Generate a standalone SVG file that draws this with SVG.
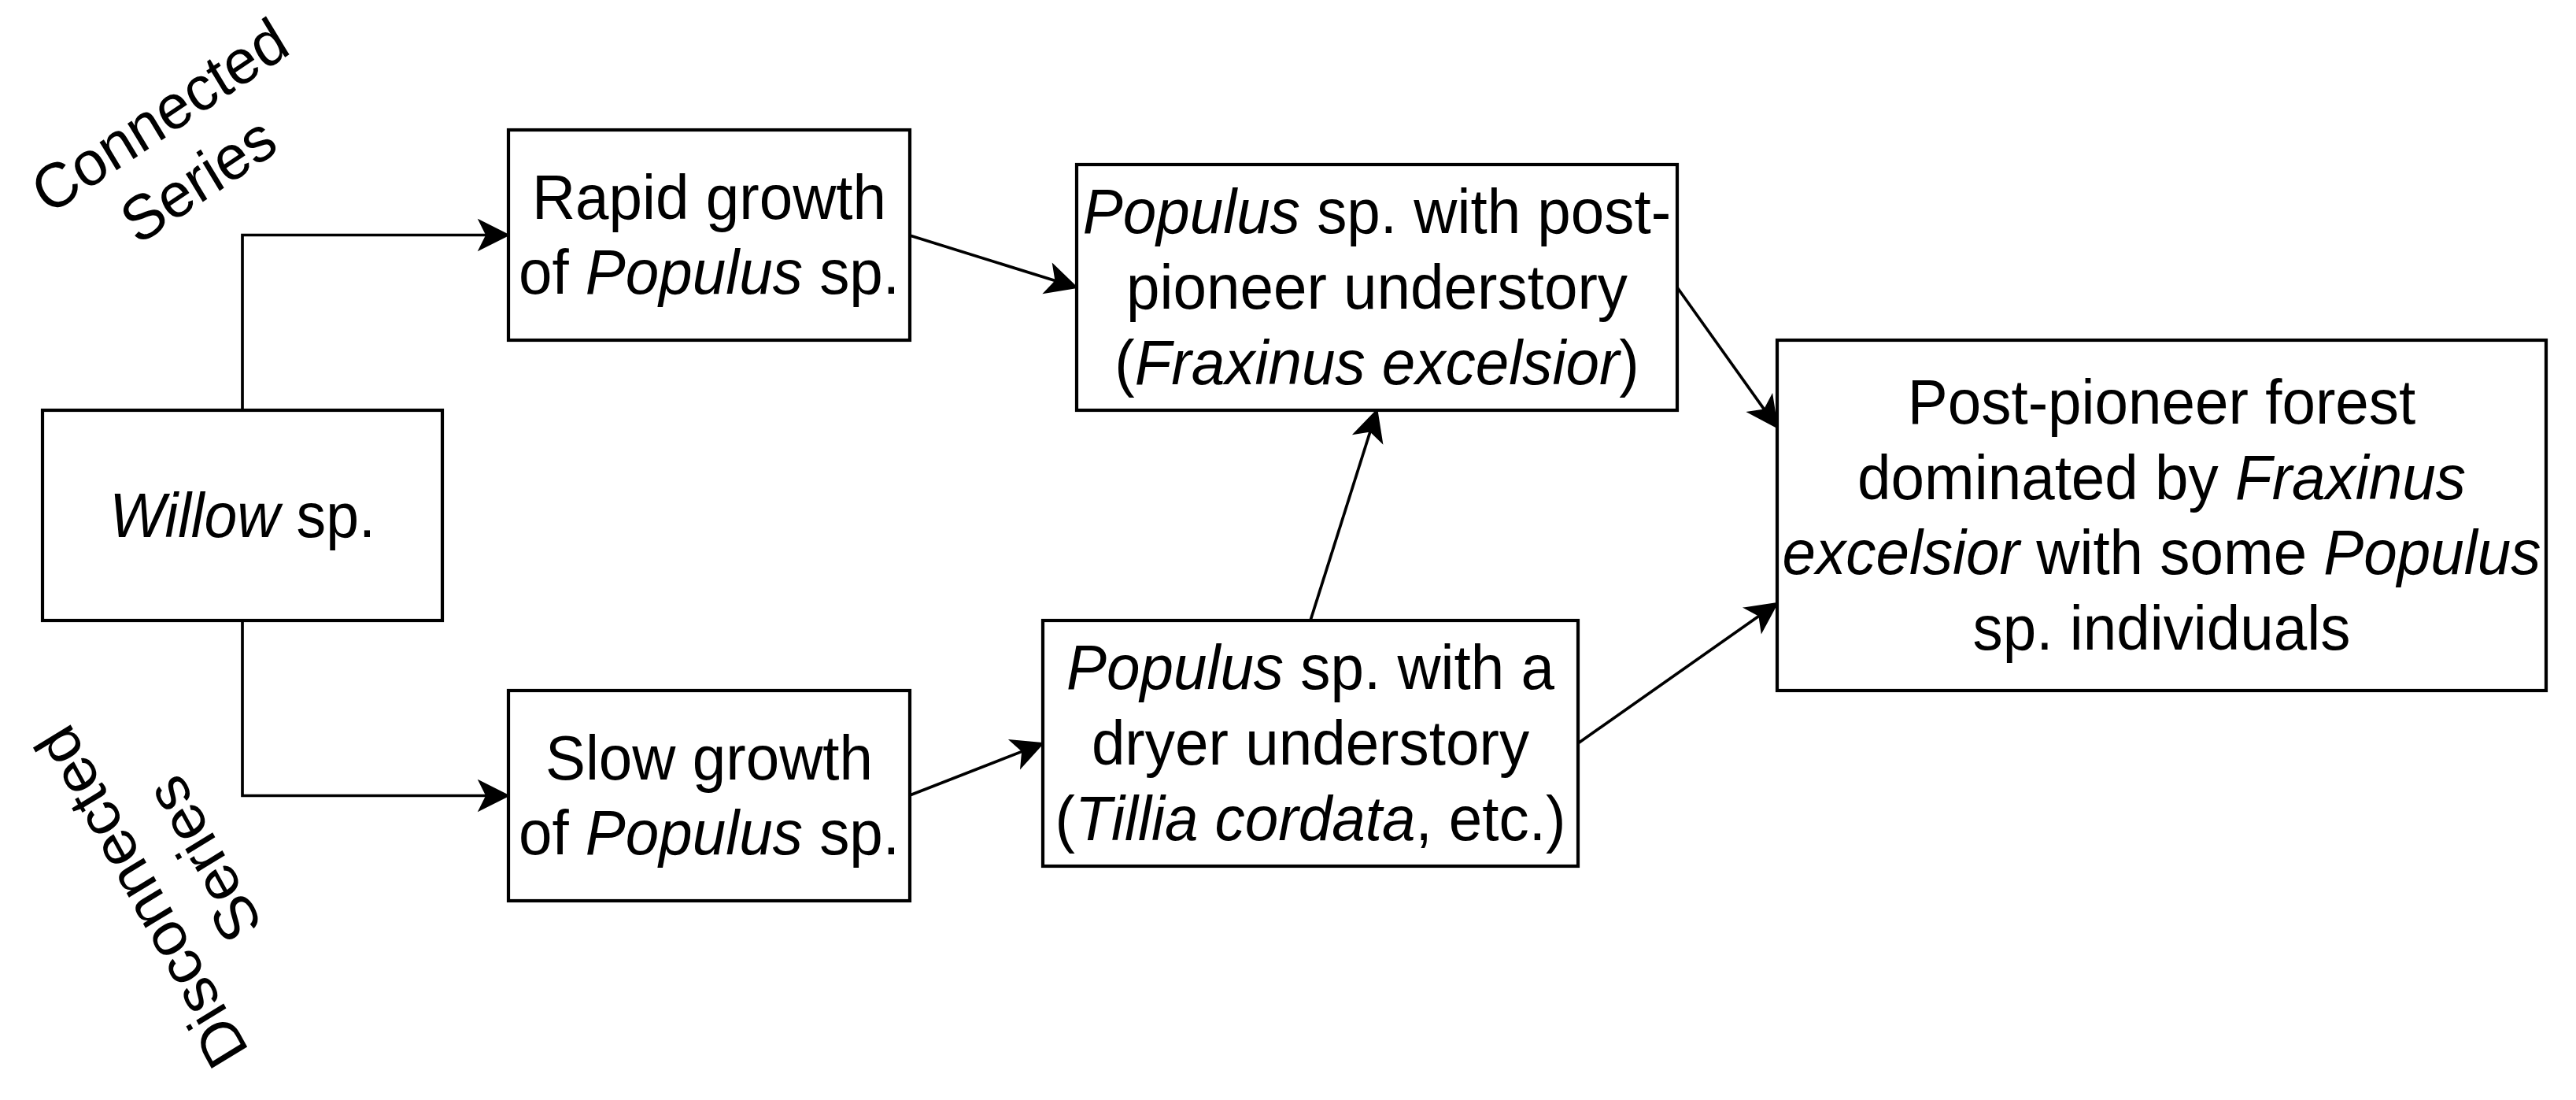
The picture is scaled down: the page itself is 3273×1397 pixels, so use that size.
<svg xmlns="http://www.w3.org/2000/svg" width="3273" height="1397" viewBox="0 0 3273 1397">
<style>
.box{fill:#ffffff;stroke:#000000;stroke-width:4.2}
.edge{fill:none;stroke:#000000;stroke-width:3.7}
.lbl{font-family:"Liberation Sans",Arial,Helvetica,sans-serif;font-size:80px;fill:#000000;text-anchor:middle}
.i{font-style:italic}
</style>
<defs>
<marker id="arrow" markerUnits="userSpaceOnUse" markerWidth="42" markerHeight="42" viewBox="-11 -21 42 42" refX="0" refY="0" orient="auto" overflow="visible">
<path d="M-9.25,-18.5 L27.75,0 L-9.25,18.5 L0,0 Z" fill="#000000" stroke="#000000" stroke-width="2" stroke-linejoin="miter"/>
</marker>
</defs>
<rect width="3273" height="1397" fill="#ffffff"/>
<g id="connectors">
<path class="edge" d="M308,521 V298.5 H618.25" marker-end="url(#arrow)"/>
<path class="edge" d="M308,788 V1010.5 H618.25" marker-end="url(#arrow)"/>
<path class="edge" d="M1156,299 L1341.5,356.75" marker-end="url(#arrow)"/>
<path class="edge" d="M1156,1010 L1299.15,954.1" marker-end="url(#arrow)"/>
<path class="edge" d="M1665,788 L1741.13,547.46" marker-end="url(#arrow)"/>
<path class="edge" d="M2131,365 L2241.88,520.41" marker-end="url(#arrow)"/>
<path class="edge" d="M2005,944 L2235.3,781.97" marker-end="url(#arrow)"/>
</g>
<g id="willow">
<rect class="box" x="54" y="521" width="508" height="267"/>
<text class="lbl" transform="translate(308,654.5) scale(0.94,1)"><tspan x="0" y="27"><tspan class="i">Willow</tspan> sp.</tspan></text>
</g>
<g id="rapid">
<rect class="box" x="646" y="165" width="510" height="267"/>
<text class="lbl" transform="translate(901,298.5) scale(0.955,1)"><tspan x="0" y="-21">Rapid growth</tspan><tspan x="0" y="75">of <tspan class="i">Populus</tspan> sp.</tspan></text>
</g>
<g id="slow">
<rect class="box" x="646" y="877" width="510" height="267"/>
<text class="lbl" transform="translate(901,1010.5) scale(0.955,1)"><tspan x="0" y="-21">Slow growth</tspan><tspan x="0" y="75">of <tspan class="i">Populus</tspan> sp.</tspan></text>
</g>
<g id="populus-post">
<rect class="box" x="1368" y="209" width="763" height="312"/>
<text class="lbl" transform="translate(1749.5,365) scale(0.955,1)"><tspan x="0" y="-69"><tspan class="i">Populus</tspan> sp. with post-</tspan><tspan x="0" y="27">pioneer understory</tspan><tspan x="0" y="123">(<tspan class="i">Fraxinus excelsior</tspan>)</tspan></text>
</g>
<g id="populus-dryer">
<rect class="box" x="1325" y="788" width="680" height="312"/>
<text class="lbl" transform="translate(1665,944) scale(0.955,1)"><tspan x="0" y="-69"><tspan class="i">Populus</tspan> sp. with a</tspan><tspan x="0" y="27">dryer understory</tspan><tspan x="0" y="123">(<tspan class="i">Tillia cordata</tspan>, etc.)</tspan></text>
</g>
<g id="forest">
<rect class="box" x="2258" y="432" width="977" height="445"/>
<text class="lbl" transform="translate(2746.5,654.5) scale(0.955,1)"><tspan x="0" y="-117">Post-pioneer forest</tspan><tspan x="0" y="-21">dominated by <tspan class="i">Fraxinus</tspan></tspan><tspan x="0" y="75"><tspan class="i">excelsior</tspan> with some <tspan class="i">Populus</tspan></tspan><tspan x="0" y="171">sp. individuals</tspan></text>
</g>
<g id="connected-series">
<text class="lbl" transform="translate(227.5,188) scale(0.95,1) rotate(-32.5)"><tspan x="0" y="-21">Connected</tspan><tspan x="0" y="75">Series</tspan></text>
</g>
<g id="disconnected-series">
<text class="lbl" transform="translate(219.5,1115) scale(0.95,1) rotate(240)"><tspan x="0" y="-21">Disconnected</tspan><tspan x="0" y="75">Series</tspan></text>
</g>
</svg>
